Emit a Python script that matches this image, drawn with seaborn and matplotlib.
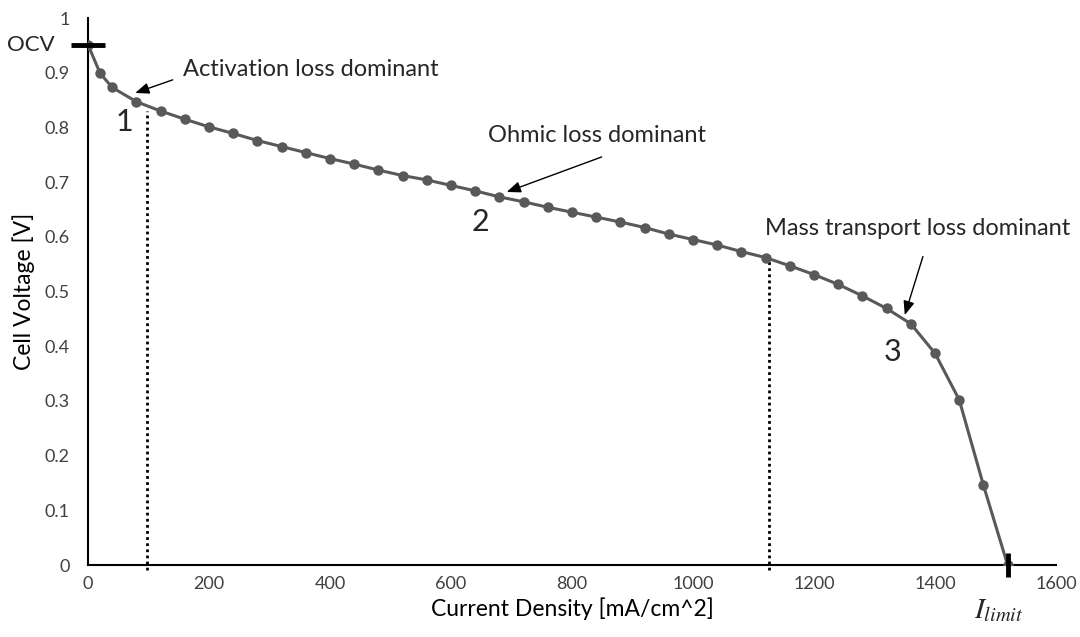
import matplotlib
matplotlib.use("Agg")
import matplotlib.pyplot as plt
import seaborn as sns
import pandas as pd

# Data
current_density = [0, 20, 40, 80, 120, 160, 200, 240, 280, 320, 360, 400, 440, 480,
                   520, 560, 600, 640, 680, 720, 760, 800, 840, 880, 920, 960, 1000,
                   1040, 1080, 1120, 1160, 1200, 1240, 1280, 1320, 1360, 1400, 1440,
                   1480, 1520]
cell_voltage = [0.951, 0.899, 0.873, 0.847, 0.830, 0.815, 0.801, 0.789, 0.776, 0.765,
                0.754, 0.743, 0.733, 0.722, 0.712, 0.704, 0.694, 0.684, 0.673, 0.664,
                0.654, 0.645, 0.636, 0.627, 0.617, 0.605, 0.595, 0.585, 0.573, 0.562,
                0.547, 0.531, 0.513, 0.492, 0.469, 0.441, 0.387, 0.302, 0.146, 0.0]
region_bounds_x = [97, 1125]
region_bounds_y = [0.830, 0.5625]
x_ticks = [0, 200, 400, 600, 800, 1000, 1200, 1400, 1600]
y_ticks = [0, 0.1, 0.2, 0.3, 0.4, 0.5, 0.6, 0.7, 0.8, 0.9, 1.0]
y_tick_labels = ["0", "0.1", "0.2", "0.3", "0.4", "0.5", "0.6", "0.7", "0.8", "0.9", "1"]

df = pd.DataFrame({"Current Density": current_density, "Cell Voltage": cell_voltage})

sns.set_theme(style="white")
plt.rcParams["font.family"] = ["Lato", "DejaVu Sans"]
plt.rcParams["mathtext.fontset"] = "stix"

fig = plt.figure(figsize=(10.8, 6.37), dpi=100)
ax = fig.add_axes([0.0815, 0.113, 0.8963, 0.8587])

line_color = "#595959"
sns.lineplot(data=df, x="Current Density", y="Cell Voltage", ax=ax, color=line_color,
             linewidth=2.2, marker="o", markersize=7.5, markeredgewidth=0,
             markerfacecolor=line_color, zorder=3)

ax.set_xlim(0, 1600)
ax.set_ylim(0, 1)
ax.set_xticks(x_ticks)
ax.set_xticklabels([str(v) for v in x_ticks])
ax.set_yticks(y_ticks)
ax.set_yticklabels(y_tick_labels)

for s in ["top", "right"]:
    ax.spines[s].set_visible(False)
for s in ["left", "bottom"]:
    ax.spines[s].set_color("black")
    ax.spines[s].set_linewidth(1.5)

ax.tick_params(axis="both", direction="in", length=6, width=1.5, color="black",
               labelsize=13, labelcolor="#404040")
ax.tick_params(axis="x", pad=8)
ax.tick_params(axis="y", pad=13)

ax.set_xlabel("Current Density [mA/cm^2]", fontsize=16.5, color="black", labelpad=4)
ax.set_ylabel("Cell Voltage [V]", fontsize=16.5, color="black", labelpad=7)

# dotted region boundaries
for bx, by in zip(region_bounds_x, region_bounds_y):
    ax.plot([bx, bx], [-0.01, by], linestyle=(0, (1, 1.2)), color="black",
            linewidth=2, clip_on=False, zorder=2)

# OCV marker and I_limit marker
ax.plot([current_density[0]], [cell_voltage[0]], marker="_", markersize=25,
        markeredgewidth=3.5, color="black", clip_on=False, zorder=4)
ax.plot([current_density[-1]], [cell_voltage[-1]], marker="|", markersize=17,
        markeredgewidth=3.5, color="black", clip_on=False, zorder=4)

ax.annotate("OCV", xy=(current_density[0], cell_voltage[0]), xytext=(-41, 0),
            textcoords="offset points", ha="center", va="center", fontsize=16,
            annotation_clip=False)
ax.annotate(r"$I_{limit}$", xy=(current_density[-1], cell_voltage[-1]),
            xytext=(-6, -33), textcoords="offset points", ha="center",
            va="center", fontsize=21, annotation_clip=False)

arrow_kw = dict(arrowstyle="-|>,head_length=0.7,head_width=0.28", color="black",
                lw=1, shrinkA=0, shrinkB=0)
ax.text(157, 0.905, "Activation loss dominant", fontsize=17, va="center",
        ha="left")
ax.annotate("", xy=(78, 0.863), xytext=(140, 0.887), arrowprops=arrow_kw)
ax.text(661, 0.786, "Ohmic loss dominant", va="center", ha="left", fontsize=17)
ax.annotate("", xy=(692, 0.682), xytext=(849, 0.746), arrowprops=arrow_kw)
ax.text(1119, 0.616, "Mass transport loss dominant", va="center", ha="left",
        fontsize=17, clip_on=False)
ax.annotate("", xy=(1350, 0.457), xytext=(1380, 0.564), arrowprops=arrow_kw)

ax.text(60, 0.81, "1", fontsize=22, ha="center", va="center")
ax.text(648, 0.628, "2", fontsize=22, ha="center", va="center")
ax.text(1330, 0.39, "3", fontsize=22, ha="center", va="center")

fig.savefig("out.png", dpi=100)
